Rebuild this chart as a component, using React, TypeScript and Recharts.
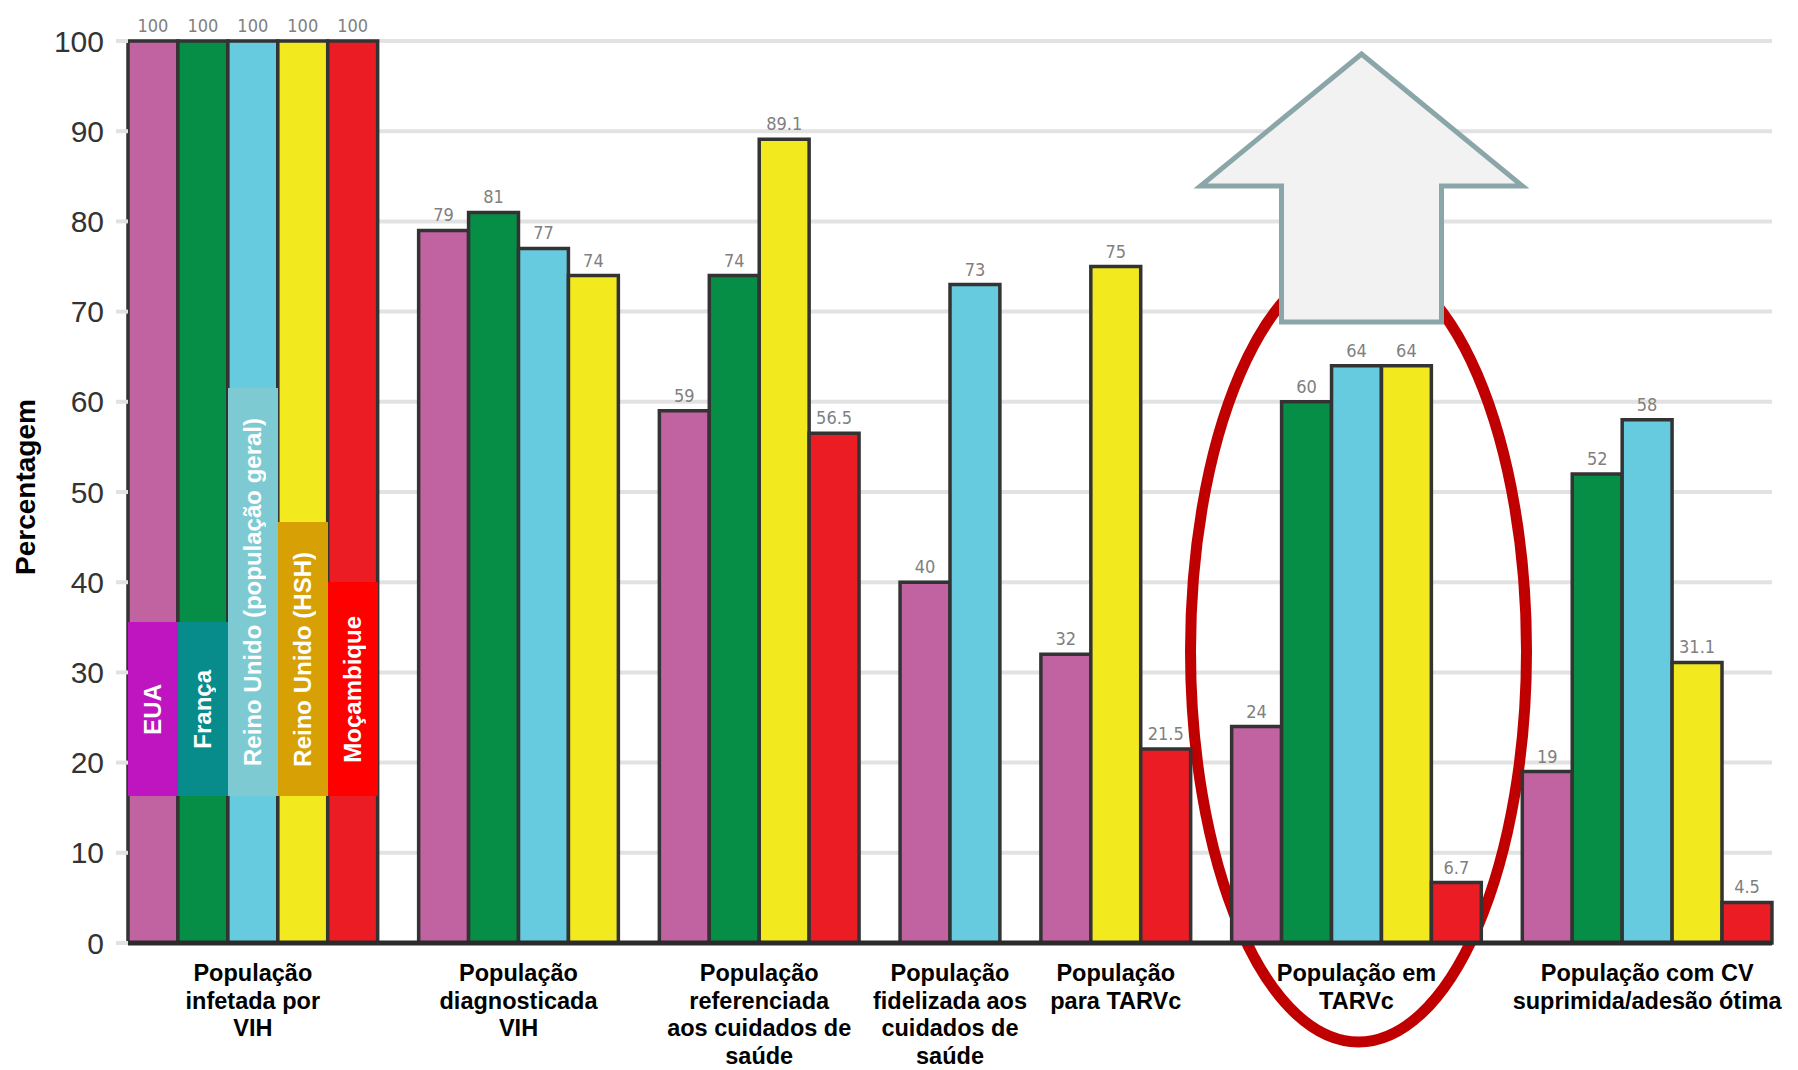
import React from 'react';
import { BarChart, Bar, XAxis, YAxis, CartesianGrid, Cell, LabelList, Legend, Customized } from 'recharts';

// series = countries
const countries = ['EUA', 'França', 'Reino Unido (população geral)', 'Reino Unido (HSH)', 'Moçambique'];
const barColors = ['#c162a1', '#078e46', '#67cbe0', '#f2ea1f', '#ec1c24'];
const legendColors = ['#bf15c0', '#078b8b', '#7ecad2', '#d7a106', '#ff0000'];

// cascade stages, one entry per label line
const stages = [
  ['População', 'infetada por', 'VIH'],
  ['População', 'diagnosticada', 'VIH'],
  ['População', 'referenciada', 'aos cuidados de', 'saúde'],
  ['População', 'fidelizada aos', 'cuidados de', 'saúde'],
  ['População', 'para TARVc'],
  ['População em', 'TARVc'],
  ['População com CV', 'suprimida/adesão ótima'],
];

// percentages per stage, null = not reported
const eua = [100, 79, 59, 40, 32, 24, 19];
const franca = [100, 81, 74, null, null, 60, 52];
const reinoUnidoGeral = [100, 77, null, 73, null, 64, 58];
const reinoUnidoHsh = [100, 74, 89.1, null, 75, 64, 31.1];
const mocambique = [100, null, 56.5, null, 21.5, 6.7, 4.5];

const yTicks = [0, 10, 20, 30, 40, 50, 60, 70, 80, 90, 100];

const W = 1798;
const H = 1070;
const PLOT_LEFT = 128;
const PLOT_RIGHT = 1772;
const PLOT_TOP = 41;
const PLOT_BOTTOM = 943;
const Y_AXIS_W = 100;
const GROUP_GAP = 0.82; // space between stages, in bar widths

const FONT = '"Liberation Sans", Arial, sans-serif';
const NARROW = '"Liberation Sans Narrow", "DejaVu Sans Condensed", Arial, sans-serif';

// flatten: bars of a stage sit side by side, missing countries take no room
const series = [eua, franca, reinoUnidoGeral, reinoUnidoHsh, mocambique];
const rows: { pos: number; value: number; country: number; stage: number }[] = [];
const stageCenters: number[] = [];
let cursor = 0;
stages.forEach((_, s) => {
  const start = cursor;
  series.forEach((vals, c) => {
    const v = vals[s];
    if (v == null) return;
    rows.push({ pos: cursor + 0.5, value: v, country: c, stage: s });
    cursor += 1;
  });
  stageCenters.push((start + cursor) / 2);
  cursor += GROUP_GAP;
});
const totalUnits = cursor - GROUP_GAP;
const unitPx = (PLOT_RIGHT - PLOT_LEFT) / totalUnits;
const toPx = (u: number) => PLOT_LEFT + u * unitPx;

const StageTick = ({ x, y, payload }: any) => {
  const idx = stageCenters.findIndex(c => Math.abs(c - payload.value) < 1e-6);
  if (idx < 0) return null;
  return (
    <text x={x} y={y} textAnchor="middle" fontFamily={FONT} fontWeight="bold" fontSize={23.5} fill="#000">
      {stages[idx].map((line, i) => (
        <tspan key={i} x={x} dy={i === 0 ? 38 : 27.5}>{line}</tspan>
      ))}
    </text>
  );
};

// legend boxes sit over the first stage's bars
const legendTops = [622, 622, 388, 522, 582];
const LEGEND_BOTTOM = 796;

const LegendOverlay = () => (
  <div style={{ position: 'relative', width: 0, height: 0 }}>
    {countries.map((name, i) => (
      <div
        key={name}
        style={{
          position: 'absolute',
          left: toPx(i),
          top: legendTops[i],
          width: unitPx,
          height: LEGEND_BOTTOM - legendTops[i],
          background: legendColors[i],
          display: 'flex',
          alignItems: 'center',
          justifyContent: 'center',
        }}
      >
        <span
          style={{
            writingMode: 'vertical-rl',
            transform: 'rotate(180deg)',
            color: '#fff',
            fontWeight: 'bold',
            fontSize: 24,
            fontFamily: FONT,
            whiteSpace: 'nowrap',
          }}
        >
          {name}
        </span>
      </div>
    ))}
  </div>
);

const Annotations = () => {
  const cx = toPx(stageCenters[5]);
  const ax = cx + 5;
  return (
    <g>
      <text
        transform="translate(25, 487) rotate(-90)"
        textAnchor="middle"
        dominantBaseline="central"
        fontFamily={FONT}
        fontWeight="bold"
        fontSize={28}
        fill="#000"
      >
        Percentagem
      </text>
      <ellipse cx={cx + 2} cy={651} rx={168} ry={391} fill="none" stroke="#c00000" strokeWidth={11} />
      <polygon
        points={`${ax},54 ${ax + 161},186 ${ax + 80},186 ${ax + 80},322 ${ax - 80},322 ${ax - 80},186 ${ax - 161},186`}
        fill="#f2f2f2"
        stroke="#8ba6a9"
        strokeWidth={5}
      />
    </g>
  );
};

export default function App() {
  return (
    <div style={{ position: 'absolute', left: 0, top: 0, width: W, height: H, background: '#fff' }}>
      <BarChart
        width={W}
        height={H}
        data={rows}
        margin={{ top: PLOT_TOP, right: W - PLOT_RIGHT, bottom: 0, left: PLOT_LEFT - Y_AXIS_W }}
      >
        <CartesianGrid vertical={false} stroke="#e2e2e2" strokeWidth={4} />
        <XAxis
          type="number"
          dataKey="pos"
          domain={[0, totalUnits]}
          ticks={stageCenters}
          interval={0}
          tick={<StageTick />}
          tickLine={false}
          tickSize={0}
          tickMargin={0}
          height={H - PLOT_BOTTOM}
          axisLine={{ stroke: '#2b2b2b', strokeWidth: 5 }}
        />
        <YAxis
          width={Y_AXIS_W}
          domain={[0, 100]}
          ticks={yTicks}
          interval={0}
          axisLine={false}
          tickLine={{ stroke: '#e2e2e2', strokeWidth: 4 }}
          tickSize={12}
          tickMargin={12}
          tick={{ fontSize: 30, fill: '#333', fontFamily: FONT }}
        />
        <Legend
          content={<LegendOverlay />}
          wrapperStyle={{ position: 'absolute', left: 0, top: 0, width: 0, height: 0 }}
        />
        <Bar dataKey="value" barSize={unitPx - 0.05} stroke="#333" strokeWidth={3.5} isAnimationActive={false}>
          {rows.map((r, i) => (
            <Cell key={i} fill={barColors[r.country]} />
          ))}
          <LabelList dataKey="value" position="top" offset={9} fill="#808080" fontSize={18} fontFamily={NARROW} />
        </Bar>
        <Customized component={Annotations} />
      </BarChart>
    </div>
  );
}
